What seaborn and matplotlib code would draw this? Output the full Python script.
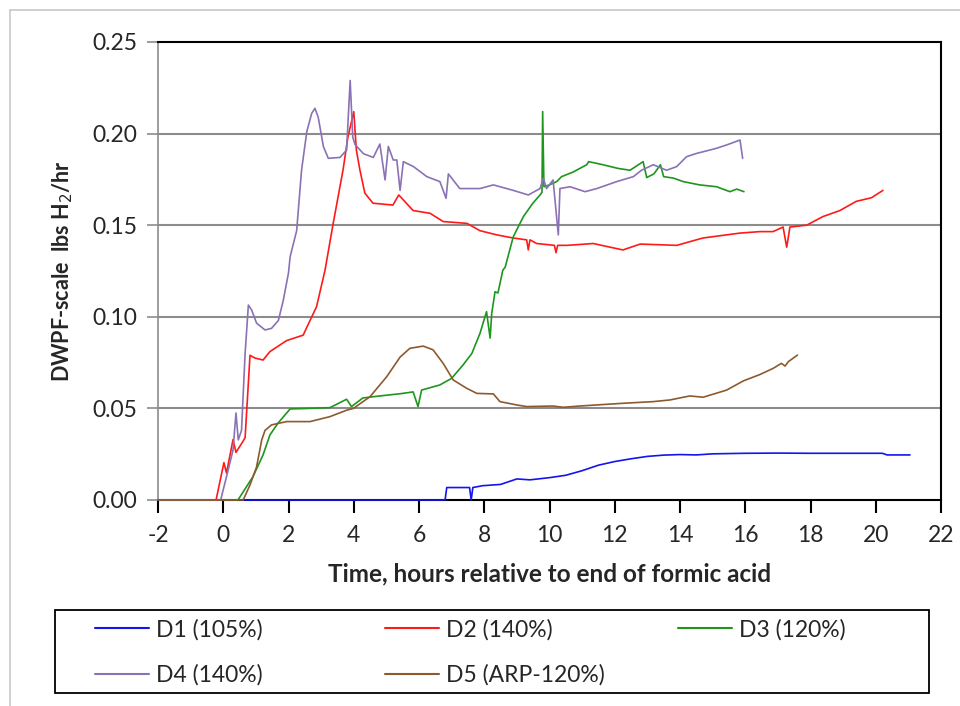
import matplotlib
matplotlib.use("Agg")
import matplotlib.pyplot as plt
import pandas as pd
import seaborn as sns
from matplotlib.lines import Line2D
from matplotlib.patches import Rectangle
from matplotlib.ticker import FormatStrFormatter

# --- data (hours, lbs H2/hr) ---
d1_t = [0.65, 6.8, 6.85, 7.55, 7.6, 7.65, 7.95, 8.5, 9.0, 9.4, 10.0, 10.5, 11.0, 11.5, 12.0, 12.5,
        13.0, 13.5, 14.0, 14.5, 15.0, 16.0, 17.0, 18.0, 19.0, 20.2, 20.35, 21.05]
d1_y = [0, 0, 0.0068, 0.0068, 0.0, 0.0068, 0.0078, 0.0085, 0.0115, 0.011, 0.0122, 0.0135, 0.016, 0.019,
        0.021, 0.0225, 0.0238, 0.0245, 0.0248, 0.0246, 0.0252, 0.0255, 0.0256, 0.0255, 0.0255, 0.0255,
        0.0246, 0.0246]

d2_t = [-2, -0.22, 0.02, 0.1, 0.3, 0.39, 0.57, 0.67, 0.82, 0.97, 1.22, 1.43, 1.94, 2.45, 2.66, 2.86,
        3.12, 3.37, 3.67, 3.82, 4.0, 4.08, 4.19, 4.34, 4.59, 5.2, 5.38, 5.82, 6.34, 6.74, 7.47, 7.87,
        8.39, 8.89, 9.3, 9.35, 9.4, 9.61, 10.15, 10.2, 10.25, 10.54, 11.34, 12.25, 12.78, 13.9, 14.7,
        15.84, 16.45, 16.85, 17.16, 17.27, 17.37, 17.88, 18.38, 18.9, 19.4, 19.87, 20.22]
d2_y = [0, 0, 0.0204, 0.0147, 0.033, 0.026, 0.031, 0.034, 0.079, 0.0775, 0.0764, 0.081, 0.087, 0.090,
        0.098, 0.1055, 0.1255, 0.151, 0.180, 0.198, 0.212, 0.191, 0.180, 0.1675, 0.162, 0.161, 0.1665,
        0.158, 0.1565, 0.152, 0.151, 0.147, 0.1447, 0.143, 0.142, 0.1365, 0.142, 0.140, 0.139, 0.135,
        0.139, 0.139, 0.140, 0.1365, 0.1397, 0.139, 0.143, 0.1457, 0.1465, 0.1465, 0.149, 0.138, 0.149,
        0.150, 0.1547, 0.158, 0.163, 0.165, 0.169]

d3_t = [-2, 0.45, 0.91, 1.22, 1.43, 1.68, 2.05, 2.6, 3.27, 3.78, 3.93, 4.28, 4.8, 5.42, 5.82, 5.97,
        6.08, 6.64, 7.0, 7.35, 7.62, 7.87, 8.07, 8.18, 8.23, 8.33, 8.42, 8.57, 8.64, 8.89, 9.2, 9.49,
        9.71, 9.77, 9.79, 9.83, 10.0, 10.22, 10.37, 10.72, 11.14, 11.2, 11.64, 12.1, 12.47, 12.87,
        12.98, 13.2, 13.4, 13.5, 13.8, 14.1, 14.6, 15.12, 15.53, 15.74, 15.96]
d3_y = [0, 0, 0.0127, 0.0246, 0.0355, 0.042, 0.0497, 0.050, 0.0504, 0.055, 0.051, 0.0557, 0.0568,
        0.058, 0.059, 0.051, 0.060, 0.0628, 0.0664, 0.0737, 0.080, 0.091, 0.1028, 0.0884, 0.102,
        0.1137, 0.113, 0.1255, 0.127, 0.1437, 0.1547, 0.162, 0.1665, 0.168, 0.212, 0.171, 0.172,
        0.1738, 0.1765, 0.179, 0.183, 0.1847, 0.183, 0.181, 0.180, 0.1847, 0.176, 0.178, 0.183,
        0.1765, 0.1757, 0.1738, 0.172, 0.171, 0.1683, 0.1697, 0.1683]

d4_t = [-2, -0.08, 0.1, 0.3, 0.39, 0.46, 0.56, 0.67, 0.77, 0.87, 1.02, 1.28, 1.48, 1.69, 1.84, 2.0,
        2.05, 2.25, 2.4, 2.56, 2.71, 2.81, 2.91, 3.07, 3.22, 3.58, 3.78, 3.89, 3.97, 4.04, 4.3, 4.6,
        4.8, 4.96, 5.06, 5.21, 5.32, 5.42, 5.52, 5.83, 6.24, 6.64, 6.83, 6.9, 7.25, 7.87, 8.28, 8.89,
        9.35, 9.71, 9.81, 9.91, 10.11, 10.27, 10.32, 10.63, 11.09, 11.45, 12.06, 12.57, 12.82, 13.18,
        13.59, 13.9, 14.2, 14.51, 14.91, 15.12, 15.43, 15.84, 15.92]
d4_y = [0, 0, 0.0127, 0.0273, 0.0475, 0.0328, 0.038, 0.080, 0.1064, 0.1037, 0.0966, 0.0928, 0.0937,
        0.098, 0.109, 0.124, 0.1328, 0.147, 0.180, 0.201, 0.211, 0.2138, 0.209, 0.1929, 0.1865,
        0.187, 0.191, 0.229, 0.198, 0.194, 0.189, 0.187, 0.1943, 0.1747, 0.193, 0.1856, 0.1856, 0.169,
        0.1847, 0.182, 0.1765, 0.1738, 0.1647, 0.178, 0.170, 0.170, 0.172, 0.169, 0.1665, 0.170,
        0.1756, 0.170, 0.1747, 0.1447, 0.170, 0.171, 0.1683, 0.170, 0.1738, 0.1765, 0.180, 0.183,
        0.180, 0.182, 0.1874, 0.1892, 0.191, 0.192, 0.1938, 0.1965, 0.1865]

d5_t = [-2, 0.61, 0.82, 1.02, 1.18, 1.28, 1.48, 1.94, 2.66, 3.27, 3.78, 3.99, 4.5, 5.01, 5.42, 5.72,
        6.13, 6.43, 6.74, 7.05, 7.46, 7.77, 8.28, 8.48, 8.99, 9.3, 10.11, 10.42, 10.93, 12.26, 13.18,
        13.69, 14.3, 14.71, 15.43, 15.94, 16.45, 16.86, 17.11, 17.22, 17.32, 17.6]
d5_y = [0, 0, 0.0082, 0.018, 0.0328, 0.038, 0.041, 0.0428, 0.0428, 0.0455, 0.049, 0.050, 0.0564,
        0.0673, 0.078, 0.0828, 0.084, 0.082, 0.0746, 0.0655, 0.061, 0.0582, 0.0579, 0.0537, 0.0519,
        0.051, 0.0513, 0.0506, 0.0513, 0.0528, 0.0537, 0.0546, 0.0568, 0.0561, 0.060, 0.065, 0.0685,
        0.0719, 0.0746, 0.0731, 0.0755, 0.0791]

run_names = ["D1 (105%)", "D2 (140%)", "D3 (120%)", "D4 (140%)", "D5 (ARP-120%)"]
run_colors = ["#1414f0", "#ff1a1a", "#1e961e", "#8a72b4", "#8c5a2e"]
x_ticks = list(range(-2, 23, 2))
y_ticks = [0.00, 0.05, 0.10, 0.15, 0.20, 0.25]

series = [(d1_t, d1_y), (d2_t, d2_y), (d3_t, d3_y), (d4_t, d4_y), (d5_t, d5_y)]
frames = []
for name, (t, y) in zip(run_names, series):
    frames.append(pd.DataFrame({"time": t, "rate": y, "run": name}))
df = pd.concat(frames, ignore_index=True)

sns.set_style("white")
plt.rcParams["font.family"] = ["Lato", "DejaVu Sans"]
plt.rcParams["axes.unicode_minus"] = False

fig = plt.figure(figsize=(9.6, 7.06), dpi=100)
ax = fig.add_axes([158 / 960, 206 / 706, 783 / 960, 458 / 706])

grid_gray = "#8c8c8c"
for yv in y_ticks[1:-1]:
    ax.axhline(yv, color=grid_gray, lw=1.5, zorder=0)

sns.lineplot(data=df, x="time", y="rate", hue="run", hue_order=run_names,
             palette=run_colors, estimator=None, sort=False, linewidth=1.2,
             legend=False, ax=ax)
# let the zero-level traces sit on top of the bottom axis line
for ln in ax.lines[4:]:
    ln.set_zorder(3)
    ln.set_clip_on(False)

ax.set_xlim(-2, 22)
ax.set_ylim(0, 0.25)
ax.set_xticks(x_ticks)
ax.set_yticks(y_ticks)
ax.yaxis.set_major_formatter(FormatStrFormatter("%.2f"))
ax.tick_params(axis="x", direction="out", length=9, width=1.5, color="black",
               labelsize=16.5, pad=9, bottom=True)
ax.tick_params(axis="y", direction="out", length=8, width=1.2, color=grid_gray,
               labelsize=16.5, pad=7, left=True)
for s in ["top", "right", "bottom"]:
    ax.spines[s].set_color("black")
    ax.spines[s].set_linewidth(1.5)
ax.spines["left"].set_color(grid_gray)
ax.spines["left"].set_linewidth(1.2)

ax.set_xlabel("Time, hours relative to end of formic acid", fontsize=17.5,
              fontweight="bold", labelpad=12)
ax.set_ylabel("DWPF-scale  lbs H$_2$/hr", fontsize=15.5, fontweight="bold", labelpad=12)

# legend box with three row-major columns
fig.add_artist(Rectangle((55 / 960, 13 / 706), 874 / 960, 83 / 706, transform=fig.transFigure,
                         facecolor="none", edgecolor="black", lw=1.3))
handles = [Line2D([0], [0], color=c, lw=1.5) for c in run_colors]
columns = [([0, 3], 95), ([1, 4], 385), ([2], 678)]
for idx, xpix in columns:
    fig.legend([handles[i] for i in idx], [run_names[i] for i in idx],
               loc="upper left", bbox_to_anchor=(xpix / 960, (706 - 619) / 706),
               frameon=False, fontsize=16.5, handlelength=2.35, handletextpad=0.3,
               borderpad=0, borderaxespad=0, labelspacing=1.04)

# outer chart border
fig.add_artist(Line2D([10 / 960, 10 / 960], [0, 696 / 706], color="#c8c8c8", lw=1.2))
fig.add_artist(Line2D([10 / 960, 1], [696 / 706, 696 / 706], color="#c8c8c8", lw=1.2))

fig.savefig("out.png", dpi=100)
